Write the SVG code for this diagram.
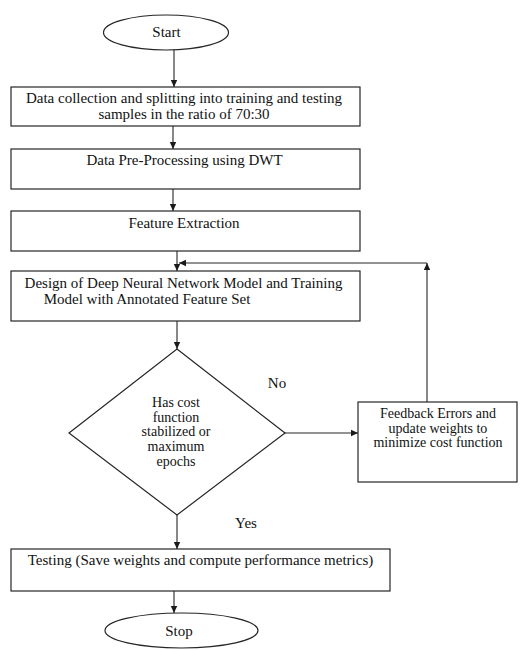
<svg xmlns="http://www.w3.org/2000/svg" width="520" height="650" viewBox="0 0 520 650">
<style>
.s{fill:#fff;stroke:#262626;stroke-width:1.2}
.t{font-family:"Liberation Serif","Times New Roman",serif;font-size:15px;fill:#111;text-anchor:middle}
.c{font-size:14px}
.l{fill:none;stroke:#262626;stroke-width:1.1}
</style>
<defs>
<marker id="a" markerWidth="8" markerHeight="8" refX="7" refY="4" orient="auto" markerUnits="userSpaceOnUse">
<path d="M0,0.8 L7,4 L0,7.2 Z" fill="#1a1a1a"/>
</marker>
</defs>
<rect width="520" height="650" fill="#fff"/>
<g id="connectors">
<line class="l" x1="174" y1="50" x2="174" y2="87" marker-end="url(#a)"/>
<line class="l" x1="173" y1="126" x2="173" y2="149" marker-end="url(#a)"/>
<line class="l" x1="173" y1="189" x2="173" y2="211" marker-end="url(#a)"/>
<line class="l" x1="177" y1="251" x2="177" y2="271" marker-end="url(#a)"/>
<line class="l" x1="177" y1="321" x2="177" y2="349" marker-end="url(#a)"/>
<line class="l" x1="177" y1="515" x2="177" y2="549" marker-end="url(#a)"/>
<line class="l" x1="174" y1="591" x2="174" y2="613" marker-end="url(#a)"/>
<line class="l" x1="285" y1="433" x2="358" y2="433" marker-end="url(#a)"/>
<line class="l" x1="427" y1="402" x2="427" y2="263" marker-end="url(#a)"/>
<line class="l" x1="427" y1="263" x2="179" y2="263" marker-end="url(#a)"/>
<text class="t" x="277" y="388">No</text>
<text class="t" x="246" y="528">Yes</text>
</g>
<g id="start">
<ellipse class="s" cx="166" cy="32.5" rx="62.5" ry="17.5"/>
<text class="t" x="166.5" y="37">Start</text>
</g>
<g id="collect">
<rect class="s" x="11" y="87" width="349" height="39"/>
<text class="t" x="184" y="103">Data collection and splitting into training and testing</text>
<text class="t" x="184" y="119">samples in the ratio of 70:30</text>
</g>
<g id="preprocess">
<rect class="s" x="11" y="149" width="349" height="40"/>
<text class="t" x="184.5" y="165">Data Pre-Processing using DWT</text>
</g>
<g id="feature">
<rect class="s" x="11" y="211" width="349" height="40"/>
<text class="t" x="184" y="228">Feature Extraction</text>
</g>
<g id="design">
<rect class="s" x="11" y="271" width="349" height="50"/>
<text class="t" x="183.5" y="288">Design of Deep Neural Network Model and Training</text>
<text class="t" x="147" y="304">Model with Annotated Feature Set</text>
</g>
<g id="decision">
<polygon class="s" points="177,349 285,433 177,515 69,433"/>
<text class="t c" x="176" y="407">Has cost</text>
<text class="t c" x="176" y="421.5">function</text>
<text class="t c" x="176" y="436">stabilized or</text>
<text class="t c" x="176" y="450.5">maximum</text>
<text class="t c" x="176" y="465.5">epochs</text>
</g>
<g id="feedback">
<rect class="s" x="358" y="402" width="159" height="80"/>
<text class="t c" x="438" y="418">Feedback Errors and</text>
<text class="t c" x="438" y="432.5">update weights to</text>
<text class="t c" x="438" y="447">minimize cost function</text>
</g>
<g id="testing">
<rect class="s" x="11" y="549" width="379" height="42"/>
<text class="t" x="200.5" y="565">Testing (Save weights and compute performance metrics)</text>
</g>
<g id="stop">
<ellipse class="s" cx="181.5" cy="630.5" rx="76.5" ry="17.5"/>
<text class="t" x="179" y="636">Stop</text>
</g>
</svg>
